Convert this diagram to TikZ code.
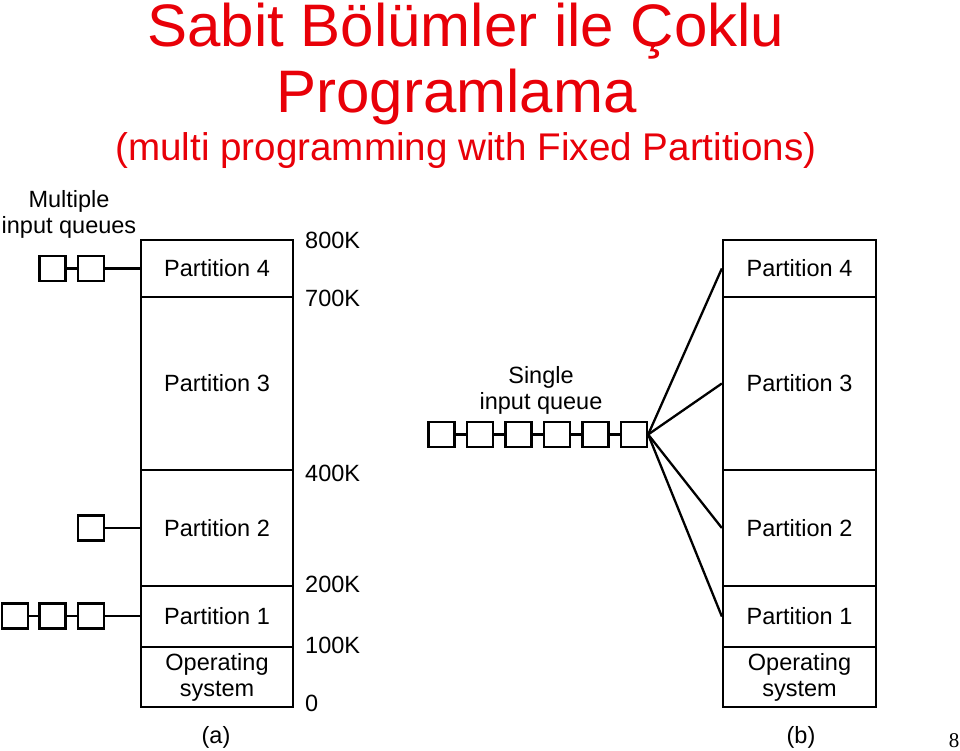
\documentclass[tikz,border=0pt]{standalone}
\usepackage{fontspec}
\setmainfont{Liberation Sans}
\newfontfamily\serifnum{Liberation Serif}
\definecolor{titlered}{RGB}{232,0,8}
\newcommand\diafont{\fontsize{23.5}{26}\selectfont}
\begin{document}
\begin{tikzpicture}[x=1pt,y=-1pt,
  part/.style={draw, line width=2.3pt, minimum width=152pt, inner sep=0pt, font=\diafont, align=center},
  qbox/.style={draw, line width=2.3pt, minimum width=26pt, minimum height=25pt, inner sep=0pt},
  link/.style={line width=2.3pt},
  lbl/.style={font=\diafont, inner sep=0pt, anchor=west},
  txt/.style={font=\diafont, inner sep=0pt, align=center}]
\useasboundingbox (0,0) rectangle (960,751);
% title
\node[anchor=base, inner sep=0pt, text=titlered, font=\fontsize{60}{66}\selectfont] (t1) at (466,47) {Sabit Bölümler ile Çoklu};
\node[anchor=base, inner sep=0pt, text=titlered, font=\fontsize{60}{66}\selectfont] (t2) at (456.5,113) {Programlama};
\node[anchor=base, inner sep=0pt, text=titlered, font=\fontsize{38.6}{44}\selectfont] (t3) at (466,161) {(multi programming with Fixed Partitions)};
% left memory (a)
\node[part, minimum height=57pt] (la4) at (217,268.5) {Partition 4};
\node[part, minimum height=173pt] (la3) at (217,383.5) {Partition 3};
\node[part, minimum height=116pt] (la2) at (217,528) {Partition 2};
\node[part, minimum height=61pt] (la1) at (217,616.5) {Partition 1};
\node[part, minimum height=60pt] (laos) at (217,677) {Operating\\system};
% address labels
\node[lbl] (k800) at (305,240) {800K};
\node[lbl] (k700) at (305,298) {700K};
\node[lbl] (k400) at (305,473) {400K};
\node[lbl] (k200) at (305,584) {200K};
\node[lbl] (k100) at (305,645) {100K};
\node[lbl] (k0) at (305,703) {0};
% multiple queues
\node[txt] (mq) at (69,214.5) {Multiple\\input queues};
\node[qbox] (a41) at (52.5,268.5) {};
\node[qbox] (a42) at (91,268.5) {};
\draw[link] (a41.east) -- (a42.west);
\draw[link] (a42.east) -- (a42.east -| la4.west);
\node[qbox] (a21) at (91,528) {};
\draw[link] (a21.east) -- (a21.east -| la2.west);
\node[qbox] (a11) at (15,616) {};
\node[qbox] (a12) at (52.5,616) {};
\node[qbox] (a13) at (91,616) {};
\draw[link] (a11.east) -- (a12.west);
\draw[link] (a12.east) -- (a13.west);
\draw[link] (a13.east) -- (a13.east -| la1.west);
\node[txt] (la) at (216,737) {(a)};
% right memory (b)
\node[part, minimum width=153pt, minimum height=57pt] (rb4) at (799.5,268.5) {Partition 4};
\node[part, minimum width=153pt, minimum height=173pt] (rb3) at (799.5,383.5) {Partition 3};
\node[part, minimum width=153pt, minimum height=116pt] (rb2) at (799.5,528) {Partition 2};
\node[part, minimum width=153pt, minimum height=61pt] (rb1) at (799.5,616.5) {Partition 1};
\node[part, minimum width=153pt, minimum height=60pt] (rbos) at (799.5,677) {Operating\\system};
% single queue
\node[txt] (sq) at (541,390) {Single\\input queue};
\node[qbox] (s1) at (441.5,434.5) {};
\node[qbox] (s2) at (480,434.5) {};
\node[qbox] (s3) at (518.5,434.5) {};
\node[qbox] (s4) at (557,434.5) {};
\node[qbox] (s5) at (595.5,434.5) {};
\node[qbox] (s6) at (634,434.5) {};
\draw[link] (s1.east) -- (s2.west);
\draw[link] (s2.east) -- (s3.west);
\draw[link] (s3.east) -- (s4.west);
\draw[link] (s4.east) -- (s5.west);
\draw[link] (s5.east) -- (s6.west);
\draw[link] (s6.east) -- (rb4.west);
\draw[link] (s6.east) -- (rb3.west);
\draw[link] (s6.east) -- (rb2.west);
\draw[link] (s6.east) -- (rb1.west);
\node[txt] (lb) at (801,737) {(b)};
\node[inner sep=0pt, font=\serifnum\fontsize{21}{24}\selectfont] (pg) at (954,741) {8};
\end{tikzpicture}
\end{document}
